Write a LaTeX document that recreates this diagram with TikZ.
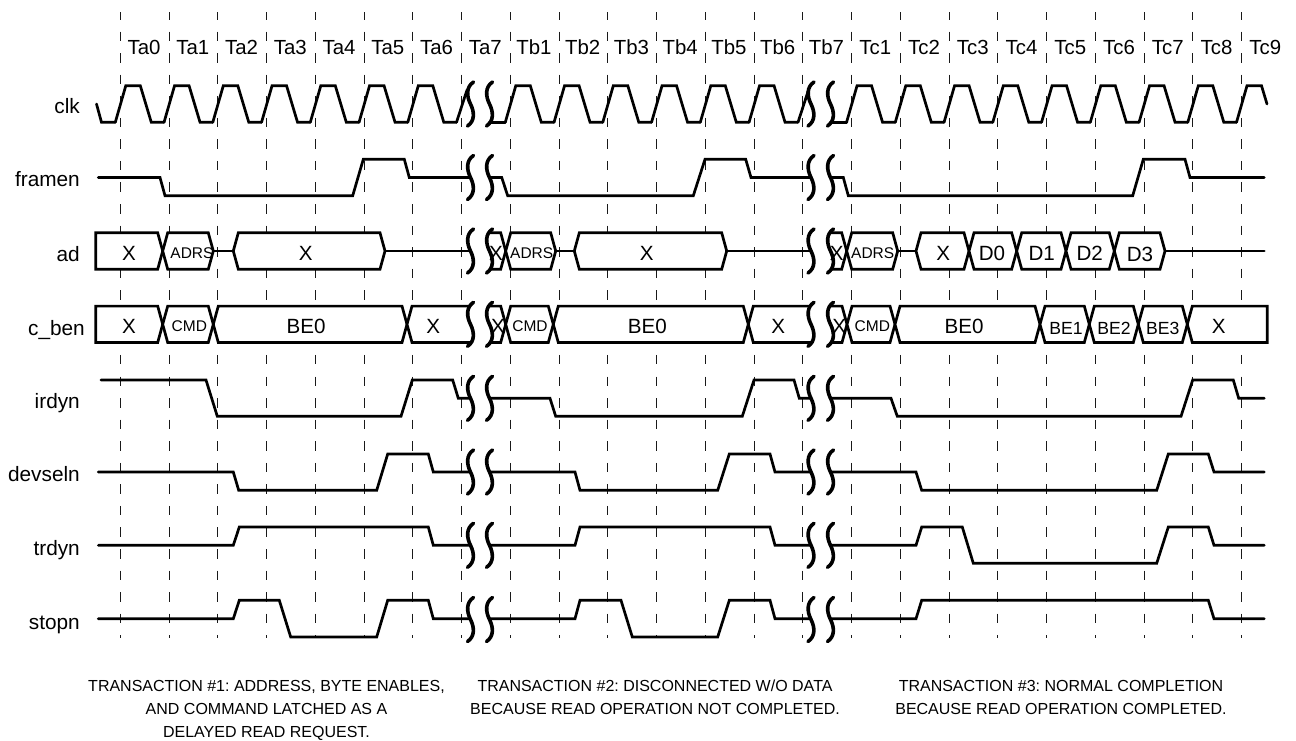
\documentclass[tikz,border=0pt]{standalone}
\usepackage{fontspec}
\setmainfont{Liberation Sans}
\frenchspacing

\newcommand{\buscell}[3]{\draw[bus] (#1,#3) -- (#1+5,#3-18.2) -- (#2-5,#3-18.2) -- (#2,#3) -- (#2-5,#3+18.2) -- (#1+5,#3+18.2) -- cycle;}

\begin{document}
\begin{tikzpicture}[x=1pt,y=-1pt,line join=miter]
\tikzset{grid/.style = {line width=1.25pt, dash pattern=on 9.5pt off 12.06pt, dash phase=2pt, black!90}}
\tikzset{sig/.style = {line width=2.7pt, line cap=round}}
\tikzset{bus/.style = {line width=2.7pt, fill=white}}
\tikzset{breakmark/.style = {line width=3.6pt, line cap=round}}
\tikzset{rowname/.style = {anchor=base east, inner sep=0pt, font=\fontsize{20.8}{24}\selectfont}}
\tikzset{tick/.style = {anchor=base, inner sep=0pt, font=\fontsize{20.4}{24}\selectfont}}
\tikzset{big/.style = {anchor=base, inner sep=0pt, font=\fontsize{20.6}{24}\selectfont}}
\tikzset{mid/.style = {anchor=base, inner sep=0pt, font=\fontsize{17.6}{20}\selectfont}}
\tikzset{small/.style = {anchor=base, inner sep=0pt, font=\fontsize{15.5}{18}\selectfont}}
\tikzset{note/.style = {anchor=north, inner sep=0pt, align=center, font=\fontsize{16}{23}\selectfont}}

\useasboundingbox (0,0) rectangle (1296,740);

%grid
\foreach \i in {0,...,23} {
  \pgfmathsetmacro{\xi}{floor(120.3+48.75*\i)+0.5}
  \draw[grid] (\xi,12) -- (\xi,638);
}

%ticks
\foreach \lab [count=\i from 0] in {Ta0,Ta1,Ta2,Ta3,Ta4,Ta5,Ta6,Ta7,Tb1,Tb2,Tb3,Tb4,Tb5,Tb6,Tb7,Tc1,Tc2,Tc3,Tc4,Tc5,Tc6,Tc7,Tc8,Tc9} {
  \pgfmathsetmacro{\xi}{144+48.75*\i}
  \node[tick] (\lab) at (\xi,54) {\lab};
}

%names
\node[rowname] (clk) at (80,113.3) {clk};
\node[rowname] (framen) at (80,186.7) {framen};
\node[rowname] (ad) at (80,261) {ad};
\node[rowname] (cben) at (85,335) {c\_ben};
\node[rowname] (irdyn) at (80,408.3) {irdyn};
\node[rowname] (devseln) at (80,481.7) {devseln};
\node[rowname] (trdyn) at (80,555) {trdyn};
\node[rowname] (stopn) at (80,629) {stopn};

%clk
\draw[sig] (96.5,104) -- (101.5,122.3) -- (115.3,122.3);
\foreach \i in {0,...,6,8,9,...,13,15,16,...,22} {
  \pgfmathsetmacro{\xi}{120.3+48.75*\i}
  \draw[sig] (\xi-5,122.3) -- (\xi+5.5,85.7) -- (\xi+20,85.7) -- (\xi+31,122.3) -- (\xi+43.75,122.3);
}
\draw[sig] (456.5,122.3) -- (467,90);
\draw[sig] (489,122.3) -- (505.3,122.3);
\draw[sig] (798,122.3) -- (808.5,90);
\draw[sig] (830,122.3) -- (846.7,122.3);
\draw[sig] (1236.5,122.3) -- (1247,85.7) -- (1261.5,85.7) -- (1267,104);

%framen
\draw[sig] (98.3,177.5) -- (160,177.5) -- (165,195.7) -- (352.7,195.7) -- (363.3,159.3) -- (404.3,159.3) -- (409.3,177.5) -- (470,177.5);
\draw[sig] (489.3,177.5) -- (501.7,177.5) -- (507.7,195.7) -- (693.3,195.7) -- (705,159.3) -- (745.7,159.3) -- (751,177.5) -- (811,177.5);
\draw[sig] (830,177.5) -- (843.3,177.5) -- (848.3,195.7) -- (1132.7,195.7) -- (1143.3,159.3) -- (1185,159.3) -- (1190,177.5) -- (1264.3,177.5);

%ad
\draw[sig] (213.3,251) -- (233.3,251);
\draw[sig] (385,251) -- (470,251);
\draw[sig] (555.7,251) -- (574.3,251);
\draw[sig] (726.7,251) -- (811,251);
\draw[sig] (897.7,251) -- (916,251);
\draw[sig] (1165,251) -- (1264.3,251);
\draw[bus] (157.7,232.8) -- (95.7,232.8) -- (95.7,269.2) -- (157.7,269.2) -- (162.7,251) -- cycle;
\buscell{162.7}{213.3}{251}
\buscell{233.3}{385}{251}
\draw[bus] (489,232.8) -- (500.7,232.8) -- (505.7,251) -- (500.7,269.2) -- (489,269.2);
\buscell{505.7}{555.7}{251}
\buscell{574.3}{726.7}{251}
\draw[bus] (830,232.8) -- (841.7,232.8) -- (846.7,251) -- (841.7,269.2) -- (830,269.2);
\buscell{846.7}{897.7}{251}
\buscell{916}{969}{251}
\buscell{969}{1016.7}{251}
\buscell{1016.7}{1066}{251}
\buscell{1066}{1114.3}{251}
\buscell{1114.3}{1165}{251}

\node[big] (adxa) at (129,260.5) {X};
\node[small] (adrsa) at (192,258.5) {ADRS};
\node[big] (adxb) at (305.7,260.5) {X};
\node[big] (adxc) at (496,260.5) {X};
\node[small] (adrsb) at (531.7,258.5) {ADRS};
\node[big] (adxd) at (646.7,260.5) {X};
\node[big] (adxe) at (836.7,260.5) {X};
\node[small] (adrsc) at (872.7,258.5) {ADRS};
\node[big] (adxf) at (943.3,260.5) {X};
\node[big] (dzero) at (992,260.5) {D0};
\node[big] (done) at (1041.7,260.5) {D1};
\node[big] (dtwo) at (1089.7,260.5) {D2};
\node[big] (dthree) at (1140,261.5) {D3};

%c_ben
\draw[bus] (157.7,306.1) -- (95.7,306.1) -- (95.7,342.5) -- (157.7,342.5) -- (162.7,324.3) -- cycle;
\buscell{162.7}{213.3}{324.3}
\buscell{213.3}{407}{324.3}
\draw[bus] (470,306.1) -- (412,306.1) -- (407,324.3) -- (412,342.5) -- (470,342.5);
\draw[bus] (489,306.1) -- (500.7,306.1) -- (505.7,324.3) -- (500.7,342.5) -- (489,342.5);
\buscell{505.7}{553.3}{324.3}
\buscell{553.3}{748.3}{324.3}
\draw[bus] (811,306.1) -- (753.3,306.1) -- (748.3,324.3) -- (753.3,342.5) -- (811,342.5);
\draw[bus] (830,306.1) -- (842,306.1) -- (847,324.3) -- (842,342.5) -- (830,342.5);
\buscell{847}{895}{324.3}
\buscell{895}{1040}{324.3}
\buscell{1040}{1089.3}{324.3}
\buscell{1089.3}{1138.3}{324.3}
\buscell{1138.3}{1187.3}{324.3}
\draw[bus] (1192.3,306.1) -- (1267.3,306.1) -- (1267.3,342.5) -- (1192.3,342.5) -- (1187.3,324.3) -- cycle;

\node[big] (cxa) at (129,333.8) {X};
\node[small] (cmda) at (189.3,331.8) {CMD};
\node[big] (beza) at (306,333.8) {BE0};
\node[big] (cxb) at (433.3,333.8) {X};
\node[big] (cxc) at (498,333.8) {X};
\node[small] (cmdb) at (530,331.8) {CMD};
\node[big] (bezb) at (647.3,333.8) {BE0};
\node[big] (cxd) at (778.3,333.8) {X};
\node[big] (cxe) at (839.3,333.8) {X};
\node[small] (cmdc) at (872.3,331.8) {CMD};
\node[big] (bezc) at (964,333.8) {BE0};
\node[mid] (beone) at (1066,334) {BE1};
\node[mid] (betwo) at (1114,334) {BE2};
\node[mid] (bethree) at (1162.7,334) {BE3};
\node[big] (cxf) at (1218.7,333.8) {X};

%irdyn
\draw[sig] (101,380) -- (206,380) -- (217.3,416.3) -- (401,416.3) -- (412.3,380) -- (452.7,380) -- (458.3,398.3) -- (470,398.3);
\draw[sig] (489.3,398.3) -- (550,398.3) -- (555.7,416.3) -- (742.3,416.3) -- (754,380) -- (794,380) -- (799.3,398.3) -- (811,398.3);
\draw[sig] (830,398.3) -- (891,398.3) -- (897.3,416.3) -- (1181,416.3) -- (1192.7,380) -- (1233.3,380) -- (1238.7,398.3) -- (1264.3,398.3);

%devseln
\draw[sig] (98.3,472) -- (233.3,472) -- (238.7,490.3) -- (376.7,490.3) -- (387.7,454) -- (428.3,454) -- (433.3,472) -- (470,472);
\draw[sig] (489.3,472) -- (575,472) -- (580,490.3) -- (717.7,490.3) -- (729.3,454) -- (770,454) -- (775,472) -- (811,472);
\draw[sig] (830,472) -- (916,472) -- (921.7,490.3) -- (1156.7,490.3) -- (1168.3,454) -- (1208.3,454) -- (1214,472) -- (1264.3,472);

%trdyn
\draw[sig] (98.3,545.3) -- (233.3,545.3) -- (239.3,527) -- (428.3,527) -- (433.3,545.3) -- (470,545.3);
\draw[sig] (489.3,545.3) -- (575,545.3) -- (580,527) -- (770,527) -- (775,545.3) -- (811,545.3);
\draw[sig] (830,545.3) -- (916,545.3) -- (921.7,527) -- (962.3,527) -- (973.3,563.3) -- (1156.7,563.3) -- (1168.3,527) -- (1208.3,527) -- (1214,545.3) -- (1264.3,545.3);

%stopn
\draw[sig] (98.3,618.7) -- (233.3,618.7) -- (239.3,600.3) -- (279.3,600.3) -- (290.7,637) -- (376.7,637) -- (387.7,600.3) -- (428.3,600.3) -- (433.3,618.7) -- (470,618.7);
\draw[sig] (489.3,618.7) -- (575,618.7) -- (580,600.3) -- (621,600.3) -- (632.3,637) -- (717.7,637) -- (729.3,600.3) -- (770,600.3) -- (775,618.7) -- (811,618.7);
\draw[sig] (830,618.7) -- (916,618.7) -- (921.7,600.3) -- (1208.3,600.3) -- (1214,618.7) -- (1264.3,618.7);

%breaks
\foreach \y in {104,177.5,251,324.3,398.3,472,545.3,619.5} {
  \foreach \x in {470.5,489.5,811,830.5} {
    \draw[breakmark,shift={(\x,\y)}] (3,-22) .. controls (-4.5,-17) and (-4,-8) .. (0,0) .. controls (4,8) and (4.5,17) .. (-3,22);
  }
}

%notes
\node[note] (noteone) at (266.5,680) {TRANSACTION \#1: ADDRESS, BYTE ENABLES,\\AND COMMAND LATCHED AS A\\DELAYED READ REQUEST.};
\node[note] (notetwo) at (655,680) {TRANSACTION \#2: DISCONNECTED W/O DATA\\BECAUSE READ OPERATION NOT COMPLETED.};
\node[note] (notethree) at (1061,680) {TRANSACTION \#3: NORMAL COMPLETION\\BECAUSE READ OPERATION COMPLETED.};

\end{tikzpicture}
\end{document}
